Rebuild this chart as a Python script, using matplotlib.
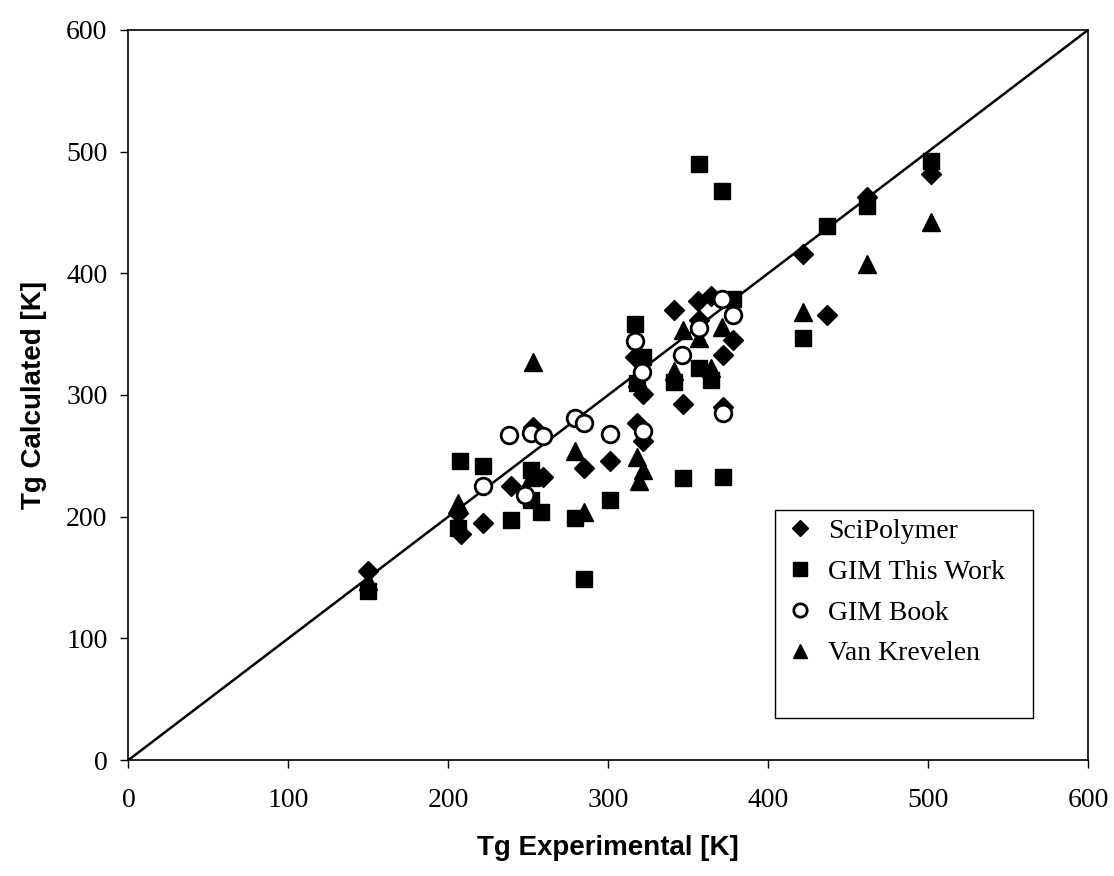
import matplotlib
matplotlib.use("Agg")
import matplotlib.pyplot as plt
import matplotlib.patches as patches

# Tg values [K]
sci_x = [150, 206, 208, 222, 239, 253, 259, 285, 301, 318, 322, 317, 322,
         341, 347, 357, 356, 364, 378, 372, 372, 422, 437, 462, 502]
sci_y = [155, 203, 186, 195, 225, 274, 233, 240, 246, 277, 262, 331, 301,
         370, 293, 362, 377, 381, 345, 333, 290, 416, 366, 463, 482]

gim_x = [150, 207, 222, 206, 239, 252, 258, 252, 279, 285, 301, 347, 372,
         317, 322, 318, 341, 357, 364, 378, 357, 371, 422, 437, 462, 502]
gim_y = [139, 246, 242, 191, 197, 214, 204, 238, 199, 149, 214, 232, 233,
         358, 331, 310, 311, 322, 312, 379, 490, 468, 347, 439, 455, 492]

book_x = [222, 248, 238, 252, 259, 279, 285, 301, 322, 317, 321, 346, 357,
          371, 378, 372]
book_y = [225, 218, 267, 269, 266, 281, 277, 268, 270, 344, 319, 333, 355,
          379, 366, 285]

vk_x = [150, 206, 252, 253, 279, 285, 318, 322, 319, 318, 347, 341, 364,
        357, 371, 422, 462, 502]
vk_y = [147, 211, 233, 327, 254, 204, 249, 238, 229, 314, 353, 320, 322,
        347, 356, 368, 408, 442]

ticks = [0, 100, 200, 300, 400, 500, 600]

fig = plt.figure(figsize=(11.14, 8.76), dpi=100)
fig.patch.set_facecolor('white')
ax = fig.add_axes([0.1153, 0.1324, 0.8614, 0.8334])

# parity line
ax.plot([0, 600], [0, 600], color='black', linewidth=1.8, zorder=1)

ax.plot(sci_x, sci_y, linestyle='none', marker='D', markersize=10.5,
        color='black', label='SciPolymer', zorder=3)
ax.plot(gim_x, gim_y, linestyle='none', marker='s', markersize=12,
        color='black', label='GIM This Work', zorder=2)
ax.plot(book_x, book_y, linestyle='none', marker='o', markersize=12,
        markerfacecolor='white', markeredgecolor='black', markeredgewidth=2.0,
        label='GIM Book', zorder=4)
ax.plot(vk_x, vk_y, linestyle='none', marker='^', markersize=12.5,
        color='black', label='Van Krevelen', zorder=3)

ax.set_xlim(0, 600)
ax.set_ylim(0, 600)
ax.set_xticks(ticks)
ax.set_yticks(ticks)
ax.tick_params(direction='out', length=6, width=1, top=False, right=False)
for lab in ax.get_xticklabels() + ax.get_yticklabels():
    lab.set_fontfamily('Liberation Serif')
    lab.set_fontsize(20)
ax.tick_params(axis='x', pad=14)
ax.tick_params(axis='y', pad=9)
for sp in ax.spines.values():
    sp.set_linewidth(1.2)

ax.set_xlabel('Tg Experimental [K]', fontsize=20, fontweight='bold',
              family='Liberation Sans', labelpad=16)
ax.set_ylabel('Tg Calculated [K]', fontsize=20, fontweight='bold',
              family='Liberation Sans', labelpad=14)

# legend box (taller than its entries, as in the original)
box = patches.Rectangle((0.674, 0.0575), 0.269, 0.285, transform=ax.transAxes,
                        facecolor='white', edgecolor='black', linewidth=1.0,
                        zorder=5)
ax.add_patch(box)
leg = ax.legend(loc='upper left', bbox_to_anchor=(0.674, 0.342), frameon=False,
                prop={'family': 'Liberation Serif', 'size': 20},
                handletextpad=0.4, labelspacing=0.55, handlelength=1.2,
                borderaxespad=0.0, borderpad=0.3, markerscale=0.8)
leg.set_zorder(6)

fig.savefig('out.png', dpi=100)
